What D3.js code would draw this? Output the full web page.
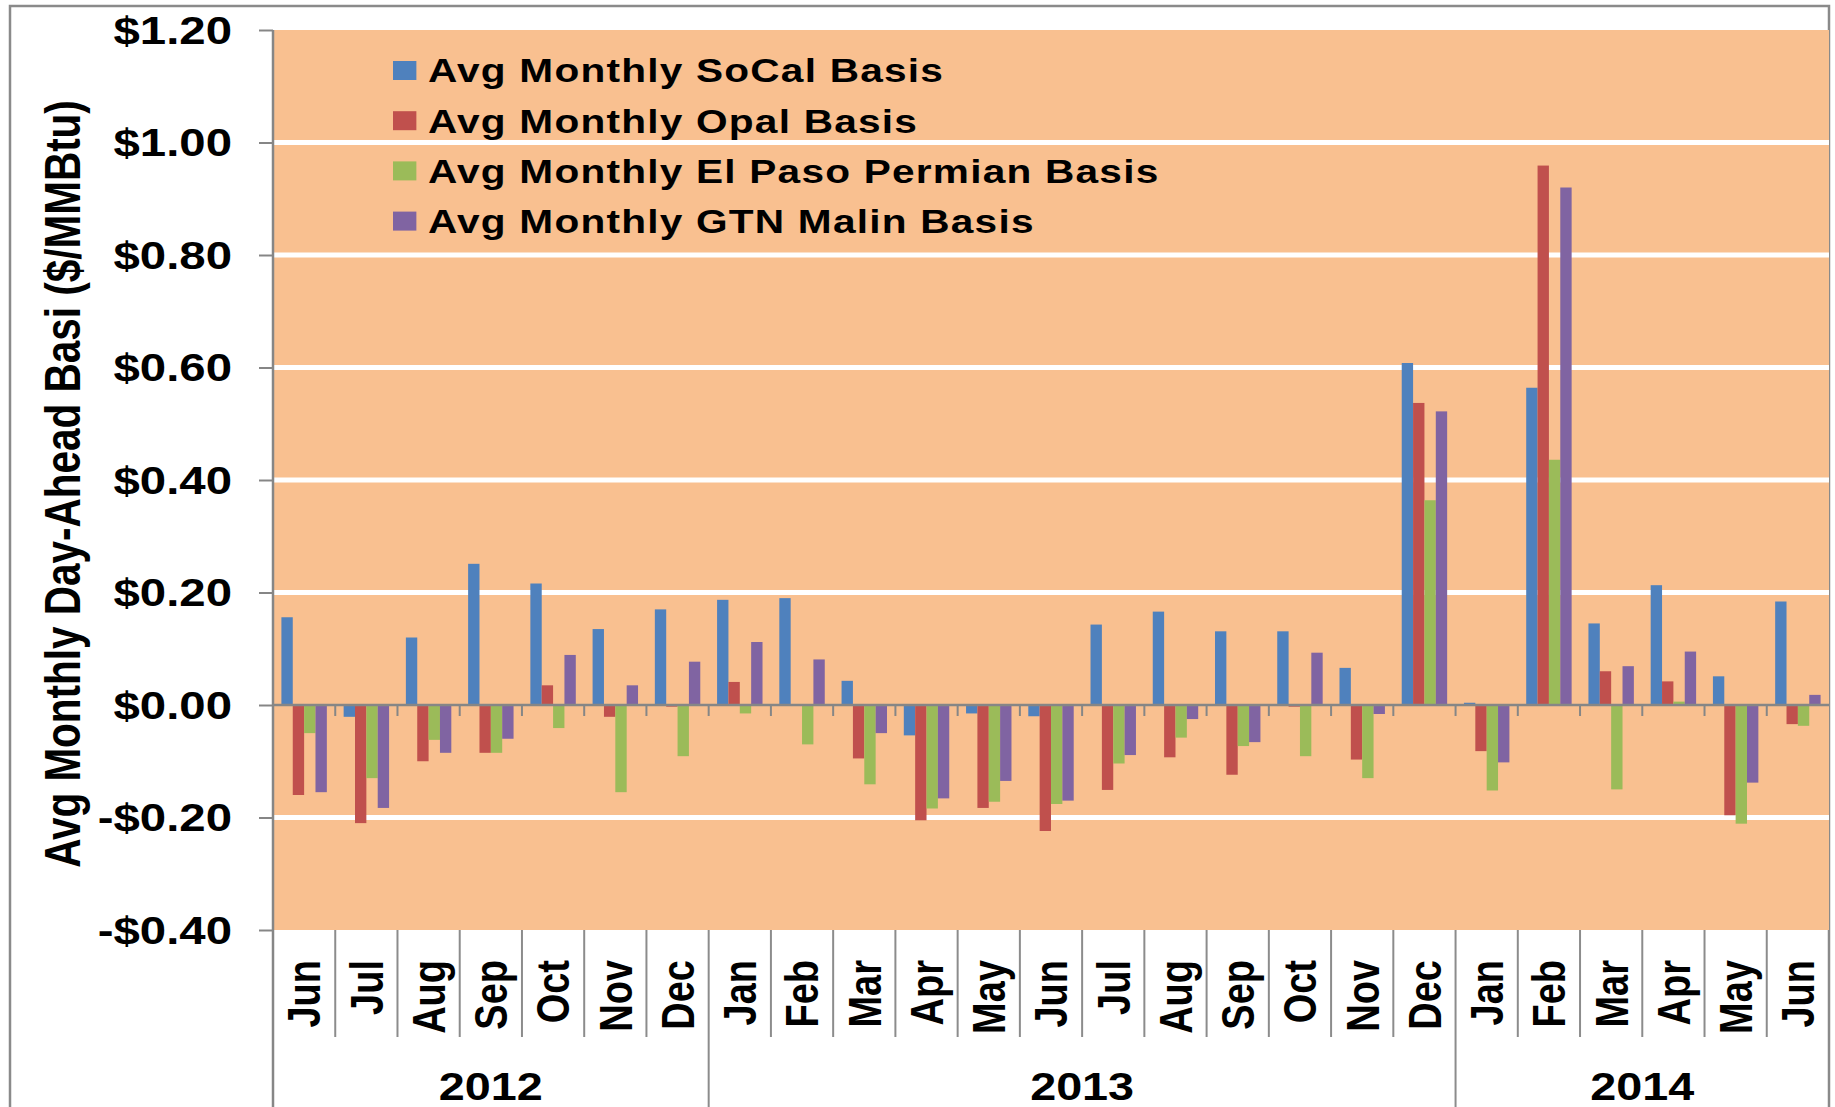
<!DOCTYPE html>
<html>
<head>
    <title>Avg Monthly Day-Ahead Basis</title>
    <script src="https://d3js.org/d3.v7.min.js"></script>
    <style>
        body { margin: 0; background: #fff; }
        text { font-family: "Liberation Sans", Arial, sans-serif; font-weight: bold; fill: #000; }
    </style>
</head>
<body>
    <svg id="chart"></svg>
    <script>
        var months = ['Jun', 'Jul', 'Aug', 'Sep', 'Oct', 'Nov', 'Dec',
            'Jan', 'Feb', 'Mar', 'Apr', 'May', 'Jun', 'Jul', 'Aug', 'Sep', 'Oct', 'Nov', 'Dec',
            'Jan', 'Feb', 'Mar', 'Apr', 'May', 'Jun'];
        var years = ['2012', '2012', '2012', '2012', '2012', '2012', '2012',
            '2013', '2013', '2013', '2013', '2013', '2013', '2013', '2013', '2013', '2013', '2013', '2013',
            '2014', '2014', '2014', '2014', '2014', '2014'];

        var socal  = [0.156, -0.021, 0.120, 0.251, 0.216, 0.135, 0.170, 0.187, 0.190, 0.043, -0.054, -0.015, -0.020,
                      0.143, 0.166, 0.131, 0.131, 0.066, 0.608, 0.004, 0.564, 0.145, 0.213, 0.051, 0.184];
        var opal   = [-0.160, -0.210, -0.100, -0.085, 0.035, -0.021, -0.003, 0.041, 0.000, -0.095, -0.205, -0.183, -0.224,
                      -0.151, -0.093, -0.124, -0.003, -0.097, 0.537, -0.082, 0.959, 0.060, 0.042, -0.196, -0.034];
        var elPaso = [-0.050, -0.130, -0.062, -0.085, -0.041, -0.155, -0.091, -0.015, -0.070, -0.141, -0.184, -0.172, -0.176,
                      -0.104, -0.058, -0.073, -0.091, -0.130, 0.364, -0.152, 0.436, -0.150, 0.006, -0.211, -0.037];
        var gtn    = [-0.155, -0.183, -0.085, -0.060, 0.089, 0.035, 0.077, 0.112, 0.081, -0.050, -0.166, -0.135, -0.170,
                      -0.089, -0.025, -0.066, 0.093, -0.016, 0.522, -0.102, 0.920, 0.069, 0.095, -0.138, 0.018];

        var seriesNames = ['Avg Monthly SoCal Basis', 'Avg Monthly Opal Basis',
            'Avg Monthly El Paso Permian Basis', 'Avg Monthly GTN Malin Basis'];
        var seriesColors = ['#4F81BD', '#C0504D', '#9BBB59', '#8064A2'];
        var yTicks = [-0.4, -0.2, 0, 0.2, 0.4, 0.6, 0.8, 1.0, 1.2];

        var width = 1835;
        var height = 1107;
        var plot = { left: 273, right: 1829, top: 30, bottom: 930 };
        var SX = 1.23; // the original picture is stretched sideways, text too

        var series = [socal, opal, elPaso, gtn];

        var svg = d3.select('#chart')
            .attr('width', width)
            .attr('height', height);

        var x0 = d3.scaleBand()
            .domain(d3.range(months.length))
            .range([plot.left, plot.right])
            .paddingInner(0.27)
            .paddingOuter(0.135);

        var x1 = d3.scaleBand()
            .domain(d3.range(series.length))
            .range([0, x0.bandwidth()]);

        var y = d3.scaleLinear()
            .domain([-0.4, 1.2])
            .range([plot.bottom, plot.top]);

        var step = x0.step();
        function boundary(i) { return plot.left + i * step; }

        // outer chart border
        svg.append('rect')
            .attr('x', 10).attr('y', 6)
            .attr('width', plot.right - 10).attr('height', height + 20)
            .attr('fill', 'none')
            .attr('stroke', '#8a8a8a')
            .attr('stroke-width', 2.5);

        // plot area
        svg.append('rect')
            .attr('x', plot.left).attr('y', plot.top)
            .attr('width', plot.right - plot.left)
            .attr('height', plot.bottom - plot.top)
            .attr('fill', '#F9C090');

        svg.append('g')
            .selectAll('line')
            .data(yTicks.filter(function(d) { return d !== 0 && d !== -0.4 && d !== 1.2; }))
            .enter()
            .append('line')
            .attr('x1', plot.left).attr('x2', plot.right)
            .attr('y1', function(d) { return y(d); })
            .attr('y2', function(d) { return y(d); })
            .attr('stroke', '#fff')
            .attr('stroke-width', 5);

        // bars
        var groups = svg.append('g')
            .selectAll('g')
            .data(months.map(function(m, i) { return i; }))
            .enter()
            .append('g')
            .attr('transform', function(i) { return 'translate(' + x0(i) + ',0)'; });

        groups.selectAll('rect')
            .data(function(i) { return series.map(function(s, k) { return { k: k, v: s[i] }; }); })
            .enter()
            .append('rect')
            .attr('x', function(d) { return x1(d.k); })
            .attr('width', x1.bandwidth())
            .attr('y', function(d) { return y(Math.max(0, d.v)); })
            .attr('height', function(d) { return Math.abs(y(d.v) - y(0)); })
            .attr('fill', function(d) { return seriesColors[d.k]; });

        // zero line with small ticks between months
        svg.append('line')
            .attr('x1', plot.left).attr('x2', plot.right)
            .attr('y1', y(0)).attr('y2', y(0))
            .attr('stroke', '#868686')
            .attr('stroke-width', 2.5);

        svg.append('g')
            .selectAll('line')
            .data(d3.range(1, months.length))
            .enter()
            .append('line')
            .attr('x1', boundary).attr('x2', boundary)
            .attr('y1', y(0)).attr('y2', y(0) + 11)
            .attr('stroke', '#868686')
            .attr('stroke-width', 2);

        // y axis
        var yAxis = svg.append('g')
            .attr('transform', 'translate(' + plot.left + ',0)')
            .call(d3.axisLeft(y)
                .tickValues(yTicks)
                .tickSize(14)
                .tickSizeOuter(0)
                .tickFormat(function(d) { return (d < 0 ? '-$' : '$') + Math.abs(d).toFixed(2); }));
        yAxis.select('.domain').remove();
        yAxis.selectAll('.tick line').attr('stroke', '#868686').attr('stroke-width', 2);
        yAxis.selectAll('.tick text')
            .attr('x', 0)
            .attr('dy', '0.35em')
            .attr('transform', 'translate(-41,0) scale(' + SX + ',1)')
            .attr('text-anchor', 'end')
            .style('font-size', '38.5px')
            .style('font-family', null);
        yAxis.attr('font-family', null).attr('font-size', null);

        // axis line continues down through the category labels
        svg.append('line')
            .attr('x1', plot.left).attr('x2', plot.left)
            .attr('y1', plot.top).attr('y2', height)
            .attr('stroke', '#868686')
            .attr('stroke-width', 2.5);

        // month dividers; year dividers run to the bottom
        svg.append('g')
            .selectAll('line')
            .data(d3.range(1, months.length))
            .enter()
            .append('line')
            .attr('x1', boundary).attr('x2', boundary)
            .attr('y1', plot.bottom)
            .attr('y2', function(i) { return years[i] !== years[i - 1] ? height : 1037; })
            .attr('stroke', '#8c8c8c')
            .attr('stroke-width', 2);

        // month labels
        svg.append('g')
            .selectAll('text')
            .data(months.map(function(m, i) { return i; }))
            .enter()
            .append('text')
            .attr('transform', function(i) {
                return 'translate(' + (x0(i) + x0.bandwidth() / 2) + ',960) scale(' + SX + ',1) rotate(-90)';
            })
            .attr('dy', '0.35em')
            .attr('text-anchor', 'end')
            .style('font-size', '38px')
            .text(function(i) { return months[i]; });

        // year labels
        var yearGroups = [];
        years.forEach(function(yr, i) {
            var last = yearGroups[yearGroups.length - 1];
            if (last && last.year === yr) { last.end = i; }
            else { yearGroups.push({ year: yr, start: i, end: i }); }
        });

        svg.append('g')
            .selectAll('text')
            .data(yearGroups)
            .enter()
            .append('text')
            .attr('transform', function(g) {
                var cx = (boundary(g.start) + boundary(g.end + 1)) / 2;
                return 'translate(' + cx + ',1100) scale(' + SX + ',1)';
            })
            .attr('text-anchor', 'middle')
            .style('font-size', '38px')
            .text(function(g) { return g.year; });

        // y axis title
        svg.append('text')
            .attr('transform', 'translate(80,' + ((plot.top + plot.bottom) / 2 + 4) + ') scale(' + SX + ',1) rotate(-90)')
            .attr('text-anchor', 'middle')
            .style('font-size', '40.5px')
            .text('Avg Monthly Day-Ahead Basi ($/MMBtu)');

        // legend
        var legend = svg.append('g')
            .selectAll('g')
            .data(seriesNames)
            .enter()
            .append('g')
            .attr('transform', function(d, i) { return 'translate(393,' + (70.5 + i * 50.2) + ')'; });

        legend.append('rect')
            .attr('x', 0).attr('y', -9.5)
            .attr('width', 19 * SX).attr('height', 19)
            .attr('fill', function(d, i) { return seriesColors[i]; });

        legend.append('text')
            .attr('transform', 'translate(35,0) scale(' + SX + ',1)')
            .attr('dy', '0.36em')
            .style('font-size', '33px')
            .style('letter-spacing', '1px')
            .text(function(d) { return d; });
    </script>
</body>
</html>
